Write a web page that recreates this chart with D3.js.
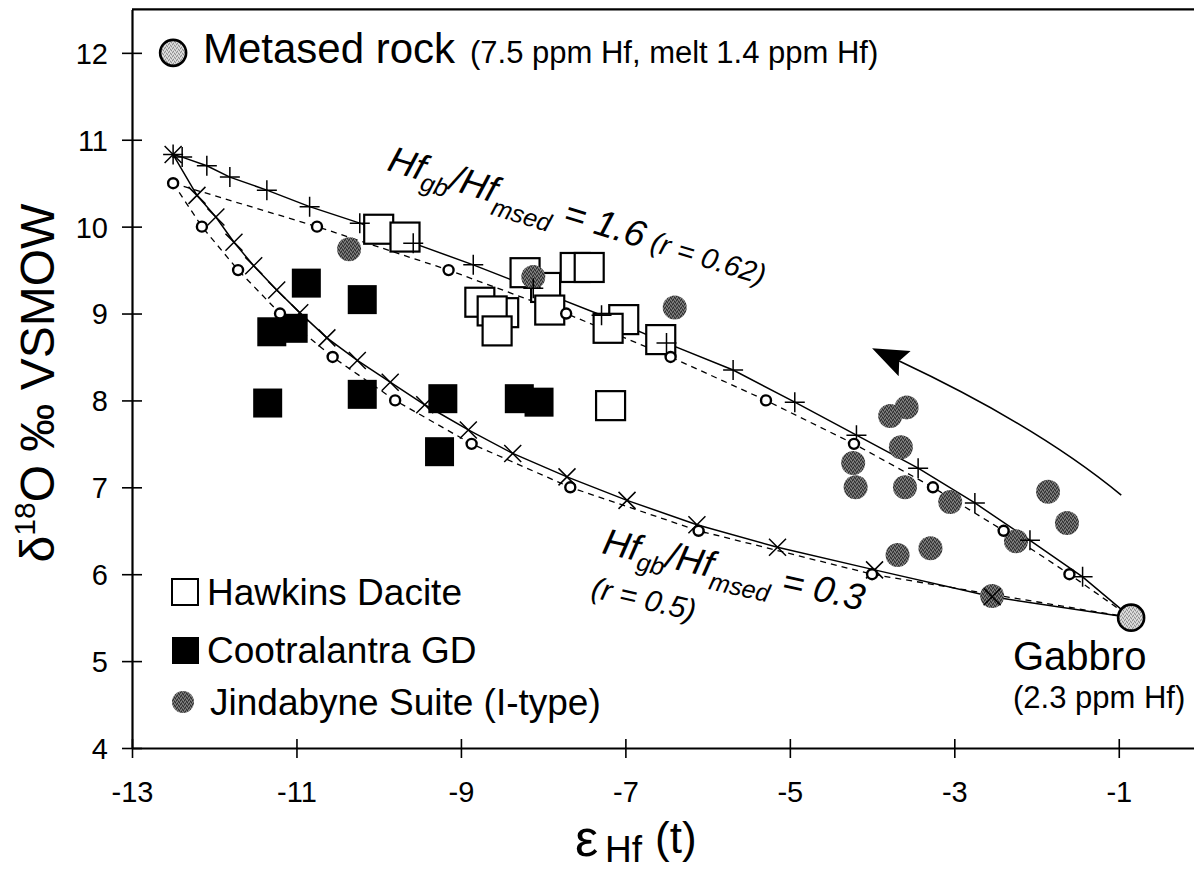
<!DOCTYPE html>
<html>
<head>
<meta charset="utf-8">
<script src="https://cdn.jsdelivr.net/npm/d3@7"></script>
<style>
  html, body { margin: 0; padding: 0; background: #fff; }
  svg { display: block; font-family: "Liberation Sans", Arial, Helvetica, sans-serif; }
</style>
</head>
<body>
<svg id="chart" width="1194" height="872"></svg>
<script>
// ---- Axis ticks ----
const xTicks = [-13, -11, -9, -7, -5, -3, -1];
const yTicks = [4, 5, 6, 7, 8, 9, 10, 11, 12];

// ---- End-members [εHf, δ18O] ----
const gabbro = [-0.85, 5.5];
const metasedKey = [-12.5, 12.0];
const metasedMelt = [-12.5, 10.83];   // start of the solid mixing curves
const metasedRock = [-12.5, 10.5];    // start of the dashed mixing curves

// ---- Mixing curves: Hf_gb/Hf_msed = 1.6 ----
// solid curve, "+" ticks
const mixHighSolid = [
  [-12.39, 10.80], [-12.09, 10.70], [-11.81, 10.57], [-11.36, 10.42], [-10.84, 10.23],
  [-10.23, 10.04], [-9.58, 9.81], [-8.85, 9.56], [-8.12, 9.29], [-7.29, 8.98],
  [-6.50, 8.66], [-5.69, 8.35], [-4.94, 7.98], [-4.19, 7.60], [-3.44, 7.22],
  [-2.75, 6.82], [-2.08, 6.39], [-1.44, 5.97]
];
// dashed curve, open circles
const mixHighDashed = [
  [-12.5, 10.5], [-10.75, 10.0], [-9.15, 9.5], [-7.72, 9.0], [-6.45, 8.5],
  [-5.29, 8.0], [-4.22, 7.5], [-3.26, 7.0], [-2.40, 6.5], [-1.60, 6.0]
];

// ---- Mixing curves: Hf_gb/Hf_msed = 0.3 ----
// solid curve, "x" ticks
const mixLowSolid = [
  [-12.21, 10.36], [-11.98, 10.11], [-11.76, 9.82], [-11.52, 9.55], [-11.24, 9.27],
  [-10.96, 9.01], [-10.63, 8.72], [-10.26, 8.46], [-9.86, 8.21], [-9.44, 7.95],
  [-8.91, 7.66], [-8.37, 7.39], [-7.71, 7.12], [-6.98, 6.85], [-6.13, 6.57],
  [-5.15, 6.31], [-3.97, 6.05], [-2.54, 5.74]
];
// dashed curve, open circles
const mixLowDashed = [
  [-12.5, 10.5], [-12.15, 10.0], [-11.71, 9.5], [-11.20, 9.0], [-10.56, 8.5],
  [-9.80, 8.0], [-8.87, 7.5], [-7.67, 7.0], [-6.11, 6.5], [-4.00, 6.0]
];

// ---- Samples ----
const hawkinsDacite = [
  [-10.00, 9.97], [-9.68, 9.88], [-8.77, 9.13], [-8.48, 9.01], [-8.62, 9.03],
  [-8.56, 8.80], [-7.97, 9.30], [-8.22, 9.47], [-7.92, 9.04], [-7.61, 9.53],
  [-7.44, 9.53], [-7.02, 8.93], [-7.21, 8.83], [-6.57, 8.70], [-7.18, 7.94]
];
const cootralantraGD = [
  [-10.88, 9.35], [-10.20, 9.16], [-11.30, 8.79], [-11.04, 8.83], [-11.35, 7.97],
  [-10.20, 8.07], [-9.22, 8.02], [-9.26, 7.41], [-8.29, 8.02], [-8.05, 7.98]
];
const jindabyneSuite = [
  [-10.36, 9.74], [-8.12, 9.42], [-6.40, 9.07], [-3.78, 7.82], [-3.58, 7.92],
  [-3.65, 7.46], [-4.23, 7.28], [-4.20, 7.00], [-3.60, 7.00], [-3.05, 6.83],
  [-1.86, 6.95], [-1.63, 6.59], [-2.25, 6.38], [-3.69, 6.22], [-3.29, 6.30],
  [-2.54, 5.75]
];

// ---- Trend arrow (start, control, tip) ----
const arrowPath = [[-0.97, 6.91], [-1.98, 7.70], [-4.0, 8.6]];

// ---- Legend ----
const legendItems = ["Hawkins Dacite", "Cootralantra GD", "Jindabyne Suite (I-type)"];

// ================= drawing =================
const svg = d3.select("#chart");
const x = d3.scaleLinear().domain([-13, 0]).range([132, 1201]);
const y = d3.scaleLinear().domain([4, 12.5]).range([748, 9.4]);
const plainNum = d => String(d);   // hyphen-minus, as printed on the axes

// stipple fills for the grey symbols
const defs = svg.append("defs");
function stipple(id, base, dark, light) {
  const p = defs.append("pattern").attr("id", id)
    .attr("width", 4).attr("height", 4).attr("patternUnits", "userSpaceOnUse");
  p.append("rect").attr("width", 4).attr("height", 4).attr("fill", base);
  [[0, 0], [2, 1], [1, 3], [3, 2]].forEach(([a, b]) =>
    p.append("rect").attr("x", a).attr("y", b).attr("width", 1).attr("height", 1).attr("fill", dark));
  [[1, 1], [3, 0], [0, 2], [2, 3]].forEach(([a, b]) =>
    p.append("rect").attr("x", a).attr("y", b).attr("width", 1).attr("height", 1).attr("fill", light));
}
stipple("dotFill", "#5a5a5a", "#2c2c2c", "#888888");
stipple("endFill", "#c6c6c6", "#8e8e8e", "#e6e6e6");

// ---- axes ----
const yAxis = svg.append("g").attr("transform", `translate(${x(-13)},0)`)
  .call(d3.axisLeft(y).tickValues(yTicks).tickSizeOuter(0).tickFormat(plainNum));
yAxis.select(".domain").attr("stroke-width", 2.2);
yAxis.selectAll(".tick line").attr("x1", -10).attr("x2", 10).attr("stroke-width", 1.6);
yAxis.selectAll(".tick text").attr("x", -24).attr("dy", "0.36em")
  .attr("font-size", 29).attr("font-family", "Liberation Sans, Arial, sans-serif").attr("fill", "#000");

const xAxis = svg.append("g").attr("transform", `translate(0,${y(4)})`)
  .call(d3.axisBottom(x).tickValues(xTicks).tickSizeOuter(0).tickFormat(plainNum));
xAxis.select(".domain").attr("stroke-width", 2.2);
xAxis.selectAll(".tick line").attr("y1", -9).attr("y2", 10).attr("stroke-width", 1.6);
xAxis.selectAll(".tick text").attr("y", 54).attr("dy", 0)
  .attr("font-size", 29).attr("font-family", "Liberation Sans, Arial, sans-serif").attr("fill", "#000");

// top frame line
svg.append("line")
  .attr("x1", x(-13)).attr("x2", 1194).attr("y1", y(12.5)).attr("y2", y(12.5))
  .attr("stroke", "#000").attr("stroke-width", 2.2);

// ---- axis titles ----
const yTitle = svg.append("text")
  .attr("transform", `translate(54,${y(8.2)}) rotate(-90)`)
  .attr("text-anchor", "middle").attr("font-size", 48).attr("fill", "#000");
yTitle.append("tspan").text("δ");
yTitle.append("tspan").attr("font-size", 30).attr("dy", -19).text("18");
yTitle.append("tspan").attr("dy", 19).text("O ‰ VSMOW");

svg.append("text").attr("x", 575).attr("y", 856).attr("font-size", 52).text("ε");
svg.append("text").attr("x", 605).attr("y", 862).attr("font-size", 37).text("Hf");
svg.append("text").attr("x", 655).attr("y", 853).attr("font-size", 44).text("(t)");

// ---- mixing curves ----
const line = d3.line().x(d => x(d[0])).y(d => y(d[1]));
const curves = [
  { pts: [metasedMelt, ...mixHighSolid, gabbro], dash: null },
  { pts: [...mixHighDashed, gabbro], dash: "6,5" },
  { pts: [metasedMelt, ...mixLowSolid, gabbro], dash: null },
  { pts: [...mixLowDashed, gabbro], dash: "6,5" }
];
svg.append("g").selectAll("path").data(curves).join("path")
  .attr("d", d => line(d.pts))
  .attr("fill", "none").attr("stroke", "#000")
  .attr("stroke-width", d => d.dash ? 1.3 : 1.5)
  .attr("stroke-dasharray", d => d.dash);

// ---- samples ----
const sq = 29;
svg.append("g").selectAll("rect").data(hawkinsDacite).join("rect")
  .attr("x", d => x(d[0]) - sq / 2).attr("y", d => y(d[1]) - sq / 2)
  .attr("width", sq).attr("height", sq)
  .attr("fill", "#fff").attr("stroke", "#000").attr("stroke-width", 2.2);

svg.append("g").selectAll("rect").data(cootralantraGD).join("rect")
  .attr("x", d => x(d[0]) - sq / 2).attr("y", d => y(d[1]) - sq / 2)
  .attr("width", sq).attr("height", sq).attr("fill", "#000");

svg.append("g").selectAll("circle").data(jindabyneSuite).join("circle")
  .attr("cx", d => x(d[0])).attr("cy", d => y(d[1])).attr("r", 12)
  .attr("fill", "url(#dotFill)");

// ---- curve tick markers ----
const plusG = svg.append("g").attr("stroke", "#000").attr("stroke-width", 1.5);
[metasedMelt, ...mixHighSolid].forEach(d => {
  const cx = x(d[0]), cy = y(d[1]);
  plusG.append("path").attr("d", `M${cx - 10},${cy}H${cx + 10}M${cx},${cy - 10}V${cy + 10}`);
});
const crossG = svg.append("g").attr("stroke", "#000").attr("stroke-width", 1.5);
[metasedMelt, ...mixLowSolid].forEach(d => {
  const cx = x(d[0]), cy = y(d[1]), s = 8.5;
  crossG.append("path").attr("d", `M${cx - s},${cy - s}L${cx + s},${cy + s}M${cx - s},${cy + s}L${cx + s},${cy - s}`);
});
svg.append("g").selectAll("circle").data([...mixHighDashed, ...mixLowDashed.slice(1)]).join("circle")
  .attr("cx", d => x(d[0])).attr("cy", d => y(d[1])).attr("r", 5)
  .attr("fill", "#fff").attr("stroke", "#000").attr("stroke-width", 2.4);

// ---- end-member symbols ----
svg.append("g").selectAll("circle").data([gabbro, metasedKey]).join("circle")
  .attr("cx", d => x(d[0])).attr("cy", d => y(d[1])).attr("r", 13)
  .attr("fill", "url(#endFill)").attr("stroke", "#000").attr("stroke-width", 2.6);

// ---- trend arrow ----
const [a0, a1, a2] = arrowPath.map(d => [x(d[0]), y(d[1])]);
const ang = Math.atan2(a2[1] - a1[1], a2[0] - a1[0]);
const headLen = 36, headHalf = 14;
const base = [a2[0] - headLen * Math.cos(ang), a2[1] - headLen * Math.sin(ang)];
svg.append("path")
  .attr("d", `M${a0[0]},${a0[1]}Q${a1[0]},${a1[1]} ${base[0] + 6 * Math.cos(ang)},${base[1] + 6 * Math.sin(ang)}`)
  .attr("fill", "none").attr("stroke", "#000").attr("stroke-width", 1.6);
svg.append("path")
  .attr("d", `M${a2[0]},${a2[1]}L${base[0] - headHalf * Math.sin(ang)},${base[1] + headHalf * Math.cos(ang)}L${base[0] + 6 * Math.cos(ang)},${base[1] + 6 * Math.sin(ang)}L${base[0] + headHalf * Math.sin(ang)},${base[1] - headHalf * Math.cos(ang)}Z`)
  .attr("fill", "#000");

// ---- annotations ----
svg.append("text").attr("x", 203).attr("y", 63).attr("font-size", 42).text("Metased rock");
svg.append("text").attr("x", 470).attr("y", 63).attr("font-size", 31).text("(7.5 ppm Hf, melt 1.4 ppm Hf)");
svg.append("text").attr("x", 1013).attr("y", 670).attr("font-size", 40).text("Gabbro");
svg.append("text").attr("x", 1013).attr("y", 708).attr("font-size", 31).text("(2.3 ppm Hf)");

function ratioLabel(tx, ty, rot, value, rText) {
  const t = svg.append("text").attr("transform", `translate(${tx},${ty}) rotate(${rot})`)
    .attr("font-size", 37).attr("font-style", "italic");
  t.append("tspan").text("Hf");
  t.append("tspan").attr("font-size", 25).attr("dy", 9).text("gb");
  t.append("tspan").attr("dy", -9).text("/Hf");
  t.append("tspan").attr("font-size", 25).attr("dy", 12).text("msed");
  t.append("tspan").attr("dy", -12).text(" = " + value);
  if (rText) t.append("tspan").attr("font-size", 29).text(" " + rText);
}
ratioLabel(386, 170, 17, "1.6", "(r = 0.62)");
ratioLabel(601, 553, 12.5, "0.3", null);
svg.append("text").attr("transform", "translate(590,597) rotate(13)")
  .attr("font-size", 30).attr("font-style", "italic").text("(r = 0.5)");

// ---- legend ----
const lg = svg.append("g");
const rowY = [592, 650, 702];
lg.append("rect").attr("x", 172).attr("y", rowY[0] - 13).attr("width", 26).attr("height", 26)
  .attr("fill", "#fff").attr("stroke", "#000").attr("stroke-width", 2);
lg.append("rect").attr("x", 172).attr("y", rowY[1] - 13).attr("width", 27).attr("height", 27)
  .attr("fill", "#000");
lg.append("circle").attr("cx", 183).attr("cy", rowY[2]).attr("r", 11).attr("fill", "url(#dotFill)");
lg.selectAll("text").data(legendItems).join("text")
  .attr("x", (d, i) => i === 2 ? 210 : 207)
  .attr("y", (d, i) => rowY[i] + 13)
  .attr("font-size", 37).text(d => d);
</script>
</body>
</html>
